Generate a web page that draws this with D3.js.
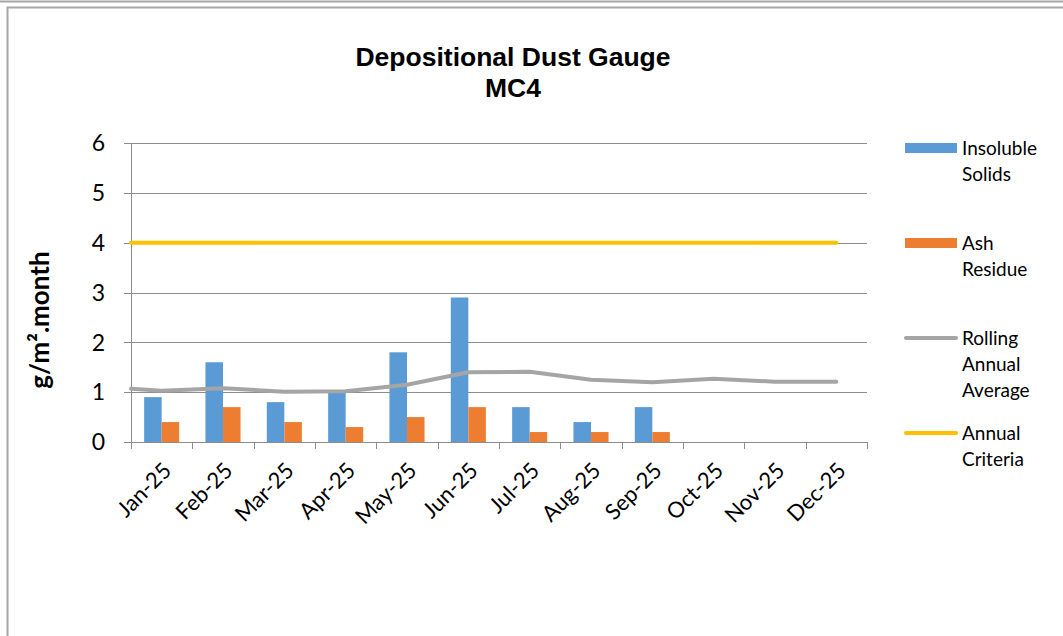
<!doctype html>
<html lang="en">
<head>
<meta charset="utf-8">
<title>Depositional Dust Gauge MC4</title>
<style>
  body { margin: 0; background: #fff; }
  svg { display: block; }
  .frame { fill: none; stroke: #a6a6a6; stroke-width: 2px; }
  .grid line { stroke: #8c8c8c; stroke-width: 1px; }
  .tick-label { font-family: Lato, "Open Sans", sans-serif; fill: #000; }
  .legend text { font-family: Lato, "Open Sans", sans-serif; font-size: 19px; fill: #000; }
</style>
</head>
<body>
<svg width="1063" height="636"></svg>
<script src="https://cdn.jsdelivr.net/npm/d3@7/dist/d3.min.js"></script>
<script>

// chart data
var months = ["Jan-25", "Feb-25", "Mar-25", "Apr-25", "May-25", "Jun-25",
              "Jul-25", "Aug-25", "Sep-25", "Oct-25", "Nov-25", "Dec-25"];
var insoluble = [0.9, 1.6, 0.8, 1.0, 1.8, 2.9, 0.7, 0.4, 0.7, null, null, null];
var ashResidue = [0.4, 0.7, 0.4, 0.3, 0.5, 0.7, 0.2, 0.2, 0.2, null, null, null];
var rolling = [1.03, 1.08, 1.01, 1.02, 1.15, 1.40, 1.41, 1.25, 1.20, 1.27, 1.21, 1.21];
var rollingStart = 1.07;   // value where the line meets the y axis
var criteria = [4, 4, 4, 4, 4, 4, 4, 4, 4, 4, 4, 4];
var criteriaStart = 4;
var yTicks = [0, 1, 2, 3, 4, 5, 6];

var legendItems = [
  {lines: ["Insoluble", "Solids"], color: "#5b9bd5", kind: "bar"},
  {lines: ["Ash", "Residue"], color: "#ed7d31", kind: "bar"},
  {lines: ["Rolling", "Annual", "Average"], color: "#a5a5a5", kind: "line"},
  {lines: ["Annual", "Criteria"], color: "#ffc000", kind: "line"}
];

var svg = d3.select("svg");

// outer frames
svg.append("line").attr("class", "frame")
    .attr("x1", 0).attr("x2", 1063).attr("y1", 1.5).attr("y2", 1.5);
svg.append("path").attr("class", "frame")
    .attr("d", "M1064,7.5H7.5V640");

var x = d3.scaleBand().domain(months).range([131, 867]);
var y = d3.scaleLinear().domain([0, 6]).range([442, 143]);
var xSub = d3.scaleBand().domain(["ins", "ash"])
    .range([0, x.bandwidth()]).paddingInner(0).paddingOuter(0.75);

// title
var title = svg.append("text")
    .attr("text-anchor", "middle")
    .style("font-family", "'Liberation Sans', Arial, sans-serif")
    .style("font-weight", "bold")
    .style("font-size", "26.5px");
title.append("tspan").attr("x", 513).attr("y", 66).text("Depositional Dust Gauge");
title.append("tspan").attr("x", 513).attr("y", 97).text("MC4");

// gridlines
svg.append("g").attr("class", "grid")
  .selectAll("line")
  .data(yTicks)
  .enter().append("line")
    .attr("x1", 124).attr("x2", 867)
    .attr("y1", function(d) { return Math.round(y(d)) + 0.5; })
    .attr("y2", function(d) { return Math.round(y(d)) + 0.5; });

// y axis line
svg.append("line")
    .attr("x1", 131.5).attr("x2", 131.5)
    .attr("y1", y(6)).attr("y2", y(0) + 7)
    .style("stroke", "#8c8c8c");

// x ticks at category boundaries
var bounds = months.map(function(m) { return x(m); }).concat([x.range()[1]]);
svg.append("g").selectAll("line")
  .data(bounds)
  .enter().append("line")
    .attr("x1", function(d) { return Math.round(d) + 0.5; })
    .attr("x2", function(d) { return Math.round(d) + 0.5; })
    .attr("y1", y(0)).attr("y2", y(0) + 7)
    .style("stroke", "#8c8c8c");

// y tick labels
svg.append("g").selectAll("text")
  .data(yTicks)
  .enter().append("text")
    .attr("class", "tick-label")
    .attr("x", 105)
    .attr("y", function(d) { return y(d); })
    .attr("dy", "0.36em")
    .attr("text-anchor", "end")
    .style("font-size", "23px")
    .text(function(d) { return d; });

// x tick labels
svg.append("g").selectAll("text")
  .data(months)
  .enter().append("text")
    .attr("class", "tick-label")
    .attr("text-anchor", "end")
    .style("font-size", "22px")
    .attr("transform", function(d) {
      return "translate(" + (x(d) + x.bandwidth() / 2 + 11) + "," + (y(0) + 30) + ") rotate(-45)";
    })
    .text(function(d) { return d; });

// y axis title
svg.append("text")
    .attr("transform", "translate(49,320) rotate(-90)")
    .attr("text-anchor", "middle")
    .style("font-family", "Lato, 'Open Sans', sans-serif")
    .style("font-weight", "bold")
    .style("font-size", "26px")
    .text("g/m\u00b2.month");

// bars
var barData = months.map(function(m, i) {
  return {month: m, values: [{key: "ins", v: insoluble[i]}, {key: "ash", v: ashResidue[i]}]};
});
var barColor = {ins: "#5b9bd5", ash: "#ed7d31"};

svg.append("g").selectAll("g")
  .data(barData)
  .enter().append("g")
    .attr("transform", function(d) { return "translate(" + x(d.month) + ",0)"; })
  .selectAll("rect")
  .data(function(d) { return d.values.filter(function(e) { return e.v != null; }); })
  .enter().append("rect")
    .attr("x", function(d) { return xSub(d.key); })
    .attr("width", xSub.bandwidth())
    .attr("y", function(d) { return y(d.v); })
    .attr("height", function(d) { return y(0) - y(d.v); })
    .style("fill", function(d) { return barColor[d.key]; });

// lines: start at the y axis, then one point per month centre
function linePoints(start, vals) {
  var pts = [[x.range()[0], y(start)]];
  vals.forEach(function(v, i) {
    pts.push([x(months[i]) + x.bandwidth() / 2, y(v)]);
  });
  return pts;
}
var line = d3.line();

svg.append("path")
    .attr("d", line(linePoints(rollingStart, rolling)))
    .style("fill", "none")
    .style("stroke", "#a5a5a5")
    .style("stroke-width", 4)
    .style("stroke-linejoin", "round")
    .style("stroke-linecap", "round");

svg.append("path")
    .attr("d", line(linePoints(criteriaStart, criteria)))
    .style("fill", "none")
    .style("stroke", "#ffc000")
    .style("stroke-width", 4)
    .style("stroke-linecap", "round");

// legend
var legend = svg.append("g").attr("class", "legend")
  .selectAll("g")
  .data(legendItems)
  .enter().append("g")
    .attr("transform", function(d, i) { return "translate(905," + (148 + i * 95) + ")"; });

legend.filter(function(d) { return d.kind === "bar"; })
  .append("rect")
    .attr("x", 0).attr("y", -5)
    .attr("width", 52).attr("height", 10)
    .style("fill", function(d) { return d.color; });

legend.filter(function(d) { return d.kind === "line"; })
  .append("line")
    .attr("x1", 1).attr("x2", 51)
    .style("stroke", function(d) { return d.color; })
    .style("stroke-width", 4)
    .style("stroke-linecap", "round");

legend.append("text")
    .attr("x", 57)
    .selectAll("tspan")
    .data(function(d) { return d.lines; })
    .enter().append("tspan")
      .attr("x", 57)
      .attr("y", function(d, i) { return i * 26; })
      .attr("dy", "0.36em")
      .text(function(d) { return d; });

</script>
</body>
</html>
